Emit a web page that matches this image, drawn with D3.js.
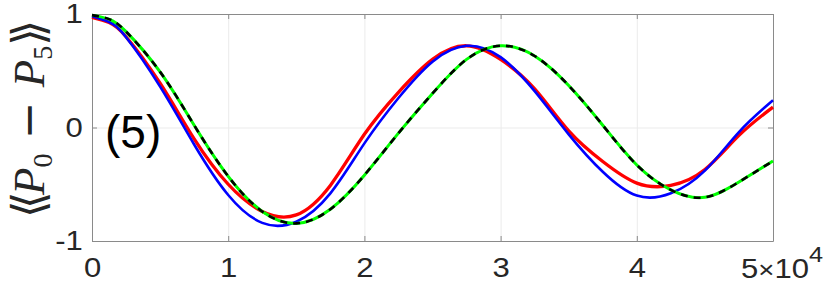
<!DOCTYPE html>
<html>
<head>
<meta charset="utf-8">
<script src="https://cdn.jsdelivr.net/npm/d3@7"></script>
<style>
  body { margin: 0; background: #fff; }
  svg { display: block; }
</style>
</head>
<body>
<div id="canvas"></div>
<script>
// time in units of 10^4
let times = [0, 0.125, 0.25, 0.5, 0.75, 1, 1.25, 1.5, 1.75, 2, 2.25, 2.5, 2.75, 3, 3.25, 3.5, 3.75, 4, 4.25, 4.5, 4.75, 5]

let redValues = [0.97, 0.925, 0.80, 0.39, -0.10, -0.50, -0.74, -0.77, -0.51, -0.06, 0.31, 0.60, 0.72, 0.60, 0.34, -0.03, -0.30, -0.49, -0.51, -0.37, -0.07, 0.18]
let blueValues = [0.98, 0.93, 0.795, 0.36, -0.15, -0.595, -0.84, -0.83, -0.58, -0.14, 0.26, 0.58, 0.72, 0.62, 0.32, -0.06, -0.39, -0.60, -0.58, -0.38, -0.04, 0.24]
let greenValues = [0.99, 0.955, 0.845, 0.49, 0.02, -0.43, -0.74, -0.845, -0.72, -0.42, -0.05, 0.30, 0.60, 0.72, 0.63, 0.37, 0.02, -0.33, -0.55, -0.615, -0.48, -0.295]
let blackValues = [0.99, 0.955, 0.845, 0.49, 0.02, -0.43, -0.74, -0.845, -0.72, -0.42, -0.05, 0.30, 0.60, 0.72, 0.63, 0.37, 0.02, -0.33, -0.55, -0.615, -0.48, -0.295]

let xTicks = [0, 1, 2, 3, 4, 5]
let yTicks = [-1, 0, 1]

let svg = {}
let plot = {left: 92, right: 773, top: 14, bottom: 241}
let font = "'Liberation Sans', Arial, sans-serif"

window.onload = function () { setup() }

function setup() {
  svg = d3.select("#canvas")
    .append("svg")
    .attr("width", 830)
    .attr("height", 284)

  let x = d3.scaleLinear().domain([0, 5]).range([plot.left, plot.right])
  let y = d3.scaleLinear().domain([-1, 1]).range([plot.bottom, plot.top])

  drawGrid(x, y)
  drawAxes(x, y)
  drawLines(x, y)
  drawLabels(x, y)
}

function drawGrid(x, y) {
  let h = plot.bottom - plot.top
  let w = plot.right - plot.left

  svg.append("g")
    .attr("transform", `translate(0,${plot.bottom})`)
    .call(d3.axisBottom(x).tickValues(xTicks).tickSize(-h).tickFormat(""))
    .call(g => g.select(".domain").remove())
    .call(g => g.selectAll("line").attr("stroke", "#ebebeb"))

  svg.append("g")
    .attr("transform", `translate(${plot.left},0)`)
    .call(d3.axisLeft(y).tickValues(yTicks).tickSize(-w).tickFormat(""))
    .call(g => g.select(".domain").remove())
    .call(g => g.selectAll("line").attr("stroke", "#ebebeb"))
}

function drawAxes(x, y) {
  let axisColor = "#8a8a8a"

  // bottom
  svg.append("g")
    .attr("transform", `translate(0,${plot.bottom})`)
    .call(d3.axisBottom(x).tickValues(xTicks).tickSizeInner(-5).tickSizeOuter(0).tickPadding(18)
      .tickFormat(d => d == 5 ? "" : String(d)))
    .call(g => g.selectAll("line, path").attr("stroke", axisColor))
    .call(g => g.selectAll("text").attr("fill", "#262626").style("font", `27px ${font}`)
      .attr("dy", "0.68em").attr("transform", "scale(1.15,1)"))

  // top (mirrored ticks)
  svg.append("g")
    .attr("transform", `translate(0,${plot.top})`)
    .call(d3.axisTop(x).tickValues(xTicks).tickSizeInner(-5).tickSizeOuter(0).tickFormat(""))
    .call(g => g.selectAll("line, path").attr("stroke", axisColor))

  // left
  svg.append("g")
    .attr("transform", `translate(${plot.left},0)`)
    .call(d3.axisLeft(y).tickValues(yTicks).tickSizeInner(-5).tickSizeOuter(0).tickPadding(8)
      .tickFormat(d => d < 0 ? "-" + Math.abs(d) : String(d)))
    .call(g => g.selectAll("line, path").attr("stroke", axisColor))
    .call(g => g.selectAll("text").attr("fill", "#262626").style("font", `27px ${font}`)
      .attr("transform", "scale(1.15,1)"))

  // right
  svg.append("g")
    .attr("transform", `translate(${plot.right},0)`)
    .call(d3.axisRight(y).tickValues(yTicks).tickSizeInner(-5).tickSizeOuter(0).tickFormat(""))
    .call(g => g.selectAll("line, path").attr("stroke", axisColor))

  // last tick label with exponent
  let lab = svg.append("text")
    .attr("transform", `translate(${x(5) - 32},278) scale(1.15,1)`)
    .attr("fill", "#262626")
    .style("font", `27px ${font}`)
  lab.append("tspan").text("5")
  lab.append("tspan").style("font-size", "24px").text("×")
  lab.append("tspan").text("10")
  lab.append("tspan").attr("dy", -16).style("font-size", "22px").text("4")
}

function drawLines(x, y) {
  let line = d3.line()
    .x((d, i) => x(times[i]))
    .y(d => y(d))
    .curve(d3.curveNatural)

  svg.append("path").datum(redValues)
    .attr("d", line).attr("fill", "none")
    .attr("stroke", "#ff0000").attr("stroke-width", 3.3)

  svg.append("path").datum(blueValues)
    .attr("d", line).attr("fill", "none")
    .attr("stroke", "#0000ff").attr("stroke-width", 2.6)

  svg.append("path").datum(greenValues)
    .attr("d", line).attr("fill", "none")
    .attr("stroke", "#00ff00").attr("stroke-width", 3)

  svg.append("path").datum(blackValues)
    .attr("d", line).attr("fill", "none")
    .attr("stroke", "#000000").attr("stroke-width", 2.6)
    .attr("stroke-dasharray", "7,6")
}

function drawLabels(x, y) {
  svg.append("text")
    .attr("x", x(0) + 13)
    .attr("y", y(0) + 20)
    .attr("fill", "#000")
    .style("font", `46px ${font}`)
    .text("(5)")

  let ylab = svg.append("text")
    .attr("transform", `translate(44,${(plot.top + plot.bottom) / 2 - 4}) rotate(-90)`)
    .attr("text-anchor", "middle")
    .attr("fill", "#262626")
    .style("font-family", "'Liberation Serif', 'DejaVu Serif', serif")
    .style("font-size", "45px")

  ylab.append("tspan").style("font-family", "'DejaVu Sans', sans-serif").style("font-weight", "200")
    .attr("letter-spacing", -9).text("⟨⟨ ")
  ylab.append("tspan").style("font-style", "italic").text("P")
  ylab.append("tspan").attr("dy", 8).style("font-size", "28px").text("0")
  ylab.append("tspan").attr("dy", -8).style("font-family", "'DejaVu Sans', sans-serif").text(" − ")
  ylab.append("tspan").style("font-style", "italic").text("P")
  ylab.append("tspan").attr("dy", 8).style("font-size", "28px").text("5")
  ylab.append("tspan").attr("dy", -8).style("font-family", "'DejaVu Sans', sans-serif")
    .attr("letter-spacing", -9).text("⟩⟩")
}
</script>
</body>
</html>
